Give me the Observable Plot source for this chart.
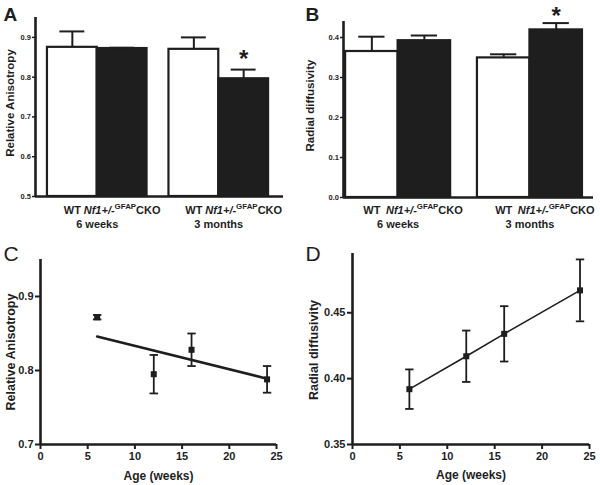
<!DOCTYPE html>
<html>
<head>
<meta charset="utf-8">
<script src="https://cdn.jsdelivr.net/npm/d3@7"></script>
<script src="https://cdn.jsdelivr.net/npm/@observablehq/plot@0.6"></script>
<style>
  html, body { margin: 0; padding: 0; background: #fff; }
  #wrap { position: relative; width: 600px; height: 485px; overflow: hidden; background: #fff; }
  .panel { position: absolute; }
</style>
</head>
<body>
<div id="wrap"></div>
<script>
// ---------- data ----------
const groups = ["6 weeks", "3 months"];
const genotypes = ["WT", "Nf1+/-GFAPCKO"];
const significant = [false, false, false, true];

// Panel A: Relative anisotropy (mean, SEM) — order: 6w WT, 6w Nf1, 3m WT, 3m Nf1
const raMean = [0.875, 0.872, 0.870, 0.796];
const raSem  = [0.040, 0.002, 0.030, 0.023];

// Panel B: Radial diffusivity
const rdMean = [0.365, 0.392, 0.349, 0.419];
const rdSem  = [0.037, 0.013, 0.009, 0.017];

// Panels C & D: by age
const ages = [6, 12, 16, 24];
const raAge    = [0.872, 0.795, 0.828, 0.788];
const raAgeSem = [0.003, 0.026, 0.022, 0.018];
const raFitAges = [6, 24];
const raFit     = [0.846, 0.789];

const rdAge    = [0.392, 0.417, 0.434, 0.467];
const rdAgeSem = [0.015, 0.0195, 0.021, 0.0235];

const ticksA = [0.5, 0.6, 0.7, 0.8, 0.9];
const ticksB = [0.0, 0.1, 0.2, 0.3, 0.4];
const ticksC = [0.7, 0.8, 0.9];
const ticksD = [0.35, 0.40, 0.45];
const ticksAge = [0, 5, 10, 15, 20, 25];

// ---------- helpers ----------
const INK = "#1e1e1e";
const FONT = "'Liberation Sans', Arial, Helvetica, sans-serif";

function barTable(means, sems, gap) {
  const rows = [];
  groups.forEach((g, gi) => genotypes.forEach((s, si) => {
    const i = gi * 2 + si;
    const x1 = gi * (2 + gap) + si;
    rows.push({group: g, genotype: s, mean: means[i], sem: sems[i], sig: significant[i],
               x1, x2: x1 + 1, xc: x1 + 0.5, gi, si});
  }));
  return rows;
}
function groupTable(gap) {
  return groups.map((g, gi) => ({group: g, xc: gi * (2 + gap) + 1}));
}
function ageTable(means, sems) {
  return ages.map((a, i) => ({age: a, m: means[i], s: sems[i]}));
}
const capSymbol = {draw(ctx) { ctx.moveTo(-4.2, 0); ctx.lineTo(4.2, 0); }};

function styleGenotype(svg, size) {
  d3.select(svg).selectAll("text")
    .filter(function () { return this.textContent === genotypes[1]; })
    .each(function () {
      const t = d3.select(this);
      t.text(null);
      t.append("tspan").attr("font-style", "italic").text("Nf1+/-");
      t.append("tspan").attr("font-size", size * 0.72).attr("dy", -size * 0.38).text("GFAP");
      t.append("tspan").attr("dy", size * 0.38).text("CKO");
    });
}

function place(node, left, top) {
  node.classList.add("panel");
  node.style.left = left + "px";
  node.style.top = top + "px";
  document.getElementById("wrap").appendChild(node);
  return node;
}

function barPanel(opts) {
  const rows = barTable(opts.means, opts.sems, opts.gap);
  const grp = groupTable(opts.gap);
  const y0 = opts.yDomain[0];
  const plot = Plot.plot({
    width: 300, height: 240,
    marginLeft: opts.ml, marginRight: opts.mr, marginTop: opts.mt, marginBottom: opts.mb,
    x: {domain: opts.xDomain, axis: null},
    y: {domain: opts.yDomain},
    style: {fontFamily: FONT, fontSize: "7.5px", fontWeight: "bold", color: INK, background: "transparent", overflow: "visible"},
    marks: [
      Plot.rectY(rows, {x1: "x1", x2: "x2", y1: () => y0, y2: "mean",
        fill: d => d.si === 0 ? "white" : INK, stroke: INK, strokeWidth: 2.2}),
      Plot.ruleX(rows, {x: "xc", y1: "mean", y2: d => d.mean + d.sem, stroke: INK, strokeWidth: 2}),
      Plot.ruleY(rows, {y: d => d.mean + d.sem, x1: d => d.xc - 0.25, x2: d => d.xc + 0.25, stroke: INK, strokeWidth: 2}),
      Plot.text(rows.filter(d => d.sig), {x: "xc", y: d => d.mean + d.sem, text: () => "*",
        lineAnchor: "bottom", dy: opts.starDy, fontSize: 24, fontWeight: "bold", fill: INK}),
      Plot.ruleX([opts.xDomain[0]], {stroke: INK, strokeWidth: 2.6}),
      Plot.ruleY([y0], {stroke: INK, strokeWidth: 2.6}),
      Plot.axisY({ticks: opts.ticks, tickFormat: d3.format(".1f"), tickSize: 3, tickPadding: 1.5, strokeWidth: 1.5, label: null}),
      Plot.text(rows, {x: "xc", y: () => y0, text: "genotype", lineAnchor: "bottom", dy: opts.labelDy,
        fontSize: 11, fontWeight: "bold", fill: INK}),
      Plot.text(grp, {x: "xc", y: () => y0, text: "group", lineAnchor: "bottom", dy: opts.labelDy + 14,
        fontSize: 11, fontWeight: "bold", fill: INK}),
      Plot.text([opts.yLabel], {frameAnchor: "left", textAnchor: "middle", lineAnchor: "middle", rotate: -90,
        dx: opts.yLabelDx, dy: opts.yLabelDy, fontSize: 11.5, fontWeight: "bold", fill: INK}),
      Plot.text([opts.letter], {frameAnchor: "top-left", textAnchor: "start", lineAnchor: "bottom",
        dx: opts.letterDx, dy: opts.letterDy, fontSize: 19, fontWeight: "bold", fill: INK})
    ]
  });
  styleGenotype(plot, 11);
  return plot;
}

function agePanel(opts) {
  const rows = ageTable(opts.means, opts.sems);
  const y0 = opts.yDomain[0];
  const marks = [
    Plot.ruleX([opts.xDomain[0]], {stroke: INK, strokeWidth: 2.6}),
    Plot.ruleY([y0], {stroke: INK, strokeWidth: 2.6}),
    Plot.axisY({ticks: opts.ticks, tickFormat: opts.tickFormat, tickSize: 5, tickPadding: 2, strokeWidth: 2, label: null}),
    Plot.axisX({ticks: ticksAge, tickSize: 5, tickPadding: 3, strokeWidth: 2, label: null}),
    opts.fitLine,
    Plot.ruleX(rows, {x: "age", y1: d => d.m - d.s, y2: d => d.m + d.s, stroke: INK, strokeWidth: 1.8}),
    Plot.dot(rows, {x: "age", y: d => d.m + d.s, symbol: capSymbol, stroke: INK, strokeWidth: 1.8, fill: "none"}),
    Plot.dot(rows, {x: "age", y: d => d.m - d.s, symbol: capSymbol, stroke: INK, strokeWidth: 1.8, fill: "none"}),
    Plot.dot(rows, {x: "age", y: "m", symbol: "square", r: 3.4, fill: INK, stroke: "none"}),
    Plot.text(["Age (weeks)"], {frameAnchor: "bottom", textAnchor: "middle", lineAnchor: "bottom", dy: opts.xLabelDy,
      fontSize: 12, fontWeight: "bold", fill: INK}),
    Plot.text([opts.yLabel], {frameAnchor: "left", textAnchor: "middle", lineAnchor: "middle", rotate: -90,
      dx: opts.yLabelDx, dy: opts.yLabelDy, fontSize: 12.5, fontWeight: "bold", fill: INK}),
    Plot.text([opts.letter], {frameAnchor: "top-left", textAnchor: "start", lineAnchor: "bottom",
      dx: opts.letterDx, dy: opts.letterDy, fontSize: 21, fontWeight: "normal", fill: INK})
  ];
  return Plot.plot({
    width: 300, height: 245,
    marginLeft: opts.ml, marginRight: opts.mr, marginTop: opts.mt, marginBottom: opts.mb,
    x: {domain: opts.xDomain},
    y: {domain: opts.yDomain},
    style: {fontFamily: FONT, fontSize: "11px", fontWeight: "bold", color: INK, background: "transparent", overflow: "visible"},
    marks
  });
}

// ---------- panels ----------
place(barPanel({
  means: raMean, sems: raSem, gap: 0.44, xDomain: [-0.24, 4.74], yDomain: [0.5, 0.95], ticks: ticksA,
  ml: 35, mr: 17, mt: 17, mb: 44, labelDy: 17, starDy: -3,
  yLabel: "Relative Anisotropy", yLabelDx: -25, yLabelDy: -4,
  letter: "A", letterDx: -32, letterDy: 3
}), 0, 0);

place(barPanel({
  means: rdMean, sems: rdSem, gap: 0.51, xDomain: [-0.04, 4.72], yDomain: [0, 0.44], ticks: ticksB,
  ml: 43, mr: 7, mt: 21, mb: 43, labelDy: 16, starDy: 1,
  yLabel: "Radial diffusivity", yLabelDx: -33, yLabelDy: -4,
  letter: "B", letterDx: -38, letterDy: -1
}), 300, 0);

place(agePanel({
  means: raAge, sems: raAgeSem, xDomain: [0, 25], yDomain: [0.7, 0.95], ticks: ticksC, tickFormat: d3.format(".1f"),
  ml: 40, mr: 24, mt: 19, mb: 41, xLabelDy: 35,
  yLabel: "Relative Anisotropy", yLabelDx: -30, yLabelDy: 0,
  letter: "C", letterDx: -37, letterDy: 1,
  fitLine: Plot.line(raFitAges.map((a, i) => ({age: a, v: raFit[i]})), {x: "age", y: "v", stroke: INK, strokeWidth: 2.6})
}), 0, 240);

place(agePanel({
  means: rdAge, sems: rdAgeSem, xDomain: [0, 25], yDomain: [0.35, 0.495], ticks: ticksD, tickFormat: d3.format(".2f"),
  ml: 52, mr: 11, mt: 13, mb: 41, xLabelDy: 34,
  yLabel: "Radial diffusivity", yLabelDx: -39, yLabelDy: 1,
  letter: "D", letterDx: -47, letterDy: 7,
  fitLine: Plot.line(ages.map((a, i) => ({age: a, v: rdAge[i]})), {x: "age", y: "v", stroke: INK, strokeWidth: 1.6})
}), 300, 240);
</script>
</body>
</html>
